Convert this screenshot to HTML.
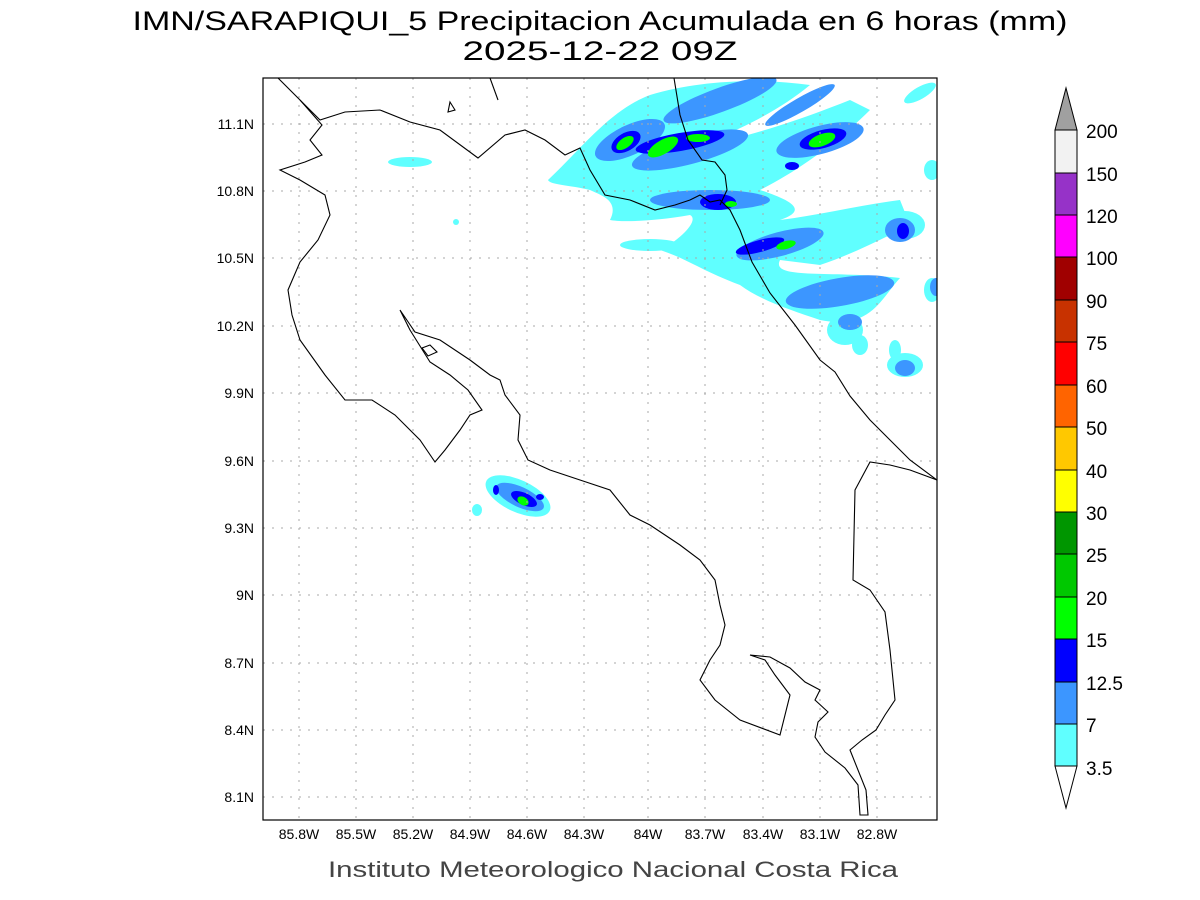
<!DOCTYPE html>
<html><head><meta charset="utf-8"><style>
body{margin:0;background:#fff;}
svg{display:block;font-family:"Liberation Sans",sans-serif;}
</style></head><body>
<svg width="1200" height="900" viewBox="0 0 1200 900">
<text x="600" y="30" text-anchor="middle" font-size="27" fill="#000" textLength="935" lengthAdjust="spacingAndGlyphs">IMN/SARAPIQUI_5 Precipitacion Acumulada en 6 horas (mm)</text>
<text x="600" y="60" text-anchor="middle" font-size="27" fill="#000" textLength="275" lengthAdjust="spacingAndGlyphs">2025-12-22 09Z</text>
<defs><clipPath id="c"><rect x="263" y="78" width="674" height="742"/></clipPath></defs>
<g clip-path="url(#c)">
<!-- precip cyan -->
<g fill="#60ffff">
<path d="M548,180 C580,150 610,110 650,95 C700,80 760,78 810,85 C780,110 740,130 700,145 C740,140 800,120 850,100 L870,110 C840,140 800,170 760,190 C790,200 810,210 780,220 C820,215 860,205 900,200 L910,225 C880,240 850,255 820,265 L780,260 C770,280 830,270 900,278 C880,300 870,330 820,320 C790,310 760,300 740,285 C700,270 690,260 660,250 C680,240 700,220 690,215 C650,222 620,222 610,220 C620,200 600,195 590,190 C570,185 550,185 548,180Z"/>
<ellipse cx="650" cy="245" rx="30" ry="6"/>
<ellipse cx="410" cy="162" rx="22" ry="5"/>
<ellipse cx="845" cy="330" rx="18" ry="15"/>
<ellipse cx="860" cy="345" rx="8" ry="10"/>
<ellipse cx="905" cy="365" rx="18" ry="12"/>
<ellipse cx="895" cy="350" rx="6" ry="10"/>
<ellipse cx="920" cy="93" rx="18" ry="6" transform="rotate(-30 920 93)"/>
<ellipse cx="932" cy="170" rx="8" ry="10"/>
<ellipse cx="905" cy="225" rx="20" ry="14"/>
<ellipse cx="932" cy="290" rx="8" ry="12"/>
<ellipse cx="518" cy="496" rx="35" ry="16" transform="rotate(25 518 496)"/>
<ellipse cx="477" cy="510" rx="5" ry="6"/>
<ellipse cx="456" cy="222" rx="3" ry="3"/>
</g>
<!-- blue 7 -->
<g fill="#3c96ff">
<ellipse cx="630" cy="140" rx="38" ry="15" transform="rotate(-25 630 140)"/>
<ellipse cx="690" cy="150" rx="60" ry="14" transform="rotate(-15 690 150)"/>
<ellipse cx="720" cy="100" rx="60" ry="12" transform="rotate(-20 720 100)"/>
<ellipse cx="820" cy="140" rx="45" ry="14" transform="rotate(-15 820 140)"/>
<ellipse cx="800" cy="105" rx="40" ry="7" transform="rotate(-30 800 105)"/>
<ellipse cx="710" cy="200" rx="60" ry="10"/>
<ellipse cx="780" cy="244" rx="45" ry="12" transform="rotate(-15 780 244)"/>
<ellipse cx="840" cy="292" rx="55" ry="14" transform="rotate(-10 840 292)"/>
<ellipse cx="900" cy="230" rx="15" ry="12"/>
<ellipse cx="850" cy="322" rx="12" ry="8"/>
<ellipse cx="905" cy="368" rx="10" ry="8"/>
<ellipse cx="936" cy="287" rx="6" ry="9"/>
<ellipse cx="520" cy="497" rx="26" ry="10" transform="rotate(25 520 497)"/>
</g>
<!-- blue 12.5 -->
<g fill="#0000ff">
<ellipse cx="626" cy="142" rx="16" ry="9" transform="rotate(-30 626 142)"/>
<ellipse cx="680" cy="142" rx="45" ry="9" transform="rotate(-10 680 142)"/>
<ellipse cx="823" cy="139" rx="24" ry="9" transform="rotate(-15 823 139)"/>
<ellipse cx="718" cy="202" rx="18" ry="8"/>
<ellipse cx="760" cy="246" rx="25" ry="6" transform="rotate(-15 760 246)"/>
<ellipse cx="903" cy="231" rx="6" ry="8"/>
<ellipse cx="792" cy="166" rx="7" ry="4"/>
<ellipse cx="524" cy="499" rx="14" ry="6" transform="rotate(25 524 499)"/>
<ellipse cx="496" cy="490" rx="3" ry="5"/>
<ellipse cx="540" cy="497" rx="4" ry="3"/>
</g>
<g fill="#00ff00">
<ellipse cx="625" cy="143" rx="10" ry="5" transform="rotate(-35 625 143)"/>
<ellipse cx="663" cy="147" rx="17" ry="7" transform="rotate(-30 663 147)"/>
<ellipse cx="698" cy="138" rx="12" ry="4"/>
<ellipse cx="822" cy="140" rx="14" ry="6" transform="rotate(-20 822 140)"/>
<ellipse cx="786" cy="245" rx="10" ry="4" transform="rotate(-15 786 245)"/>
<ellipse cx="731" cy="204" rx="6" ry="3"/>
<ellipse cx="523" cy="501" rx="6" ry="4" transform="rotate(30 523 501)"/>
</g>
<!-- grid -->
<g stroke="#aaa" stroke-width="1" stroke-dasharray="2,7">
<path d="M299,78V820M356,78V820M413,78V820M470,78V820M527,78V820M584,78V820M648,78V820M705,78V820M763,78V820M820,78V820M877,78V820"/>
<path d="M263,124H937M263,191H937M263,258H937M263,326H937M263,393H937M263,461H937M263,528H937M263,595H937M263,663H937M263,730H937M263,797H937"/>
</g>
<!-- coasts -->
<g fill="none" stroke="#000" stroke-width="1.1">
<path d="M278,78 L300,100 L322,125 L310,140 L322,155 L305,162 L280,170 L300,180 L325,195 L330,215 L318,240 L300,262 L288,290 L292,315 L300,340 L325,375 L345,400 L372,400 L395,415 L420,440 L435,462 L445,450 L460,430 L470,415 L482,410 L468,390 L450,375 L430,362 L410,330 L400,310 L415,332 L440,340 L470,360 L490,375 L500,380 L505,395 L520,415 L518,440 L528,460 L550,470 L580,480 L610,490 L630,515 L650,525 L680,545 L700,560 L715,580 L720,605 L725,625 L720,645 L710,660 L700,680 L715,700 L740,720 L780,735 L785,715 L790,695 L775,675 L765,660 L750,655 L770,657 L790,668 L805,682 L820,690 L815,700 L828,712 L818,722 L815,737 L825,752 L845,768 L858,785 L860,815 L868,815 L866,790 L850,750 L862,740 L876,730 L885,715 L895,700 L890,650 L885,612 L870,590 L853,580 L855,490 L870,462 L890,465 L910,470 L937,480"/>
<path d="M300,100 L320,120 L345,112 L380,110 L410,122 L440,130 L478,158 L505,135 L525,130 L545,140 L565,155 L580,148 L590,170 L605,195 L630,200 L655,210 L675,205 L690,200 L700,195 L710,202 L720,200 L730,210 L740,230 L752,262 L770,293 L795,325 L820,360 L835,372 L850,396 L870,420 L890,440 L910,460 L937,480"/>
<path d="M674,78 L680,115 L688,140 L702,160 L715,162 L725,175 L727,190 L720,205"/>
<path d="M490,78 L498,100"/>
<path d="M450,102 L455,110 L448,112 Z"/>
<path d="M422,348 L430,345 L437,352 L428,356 Z"/>
</g>
</g>
<rect x="263" y="78" width="674" height="742" fill="none" stroke="#000" stroke-width="1.2"/>
<!-- tick labels -->
<g font-size="14" fill="#000" text-anchor="end">
<text x="254" y="129">11.1N</text><text x="254" y="196">10.8N</text><text x="254" y="263">10.5N</text><text x="254" y="331">10.2N</text><text x="254" y="398">9.9N</text><text x="254" y="466">9.6N</text><text x="254" y="533">9.3N</text><text x="254" y="600">9N</text><text x="254" y="668">8.7N</text><text x="254" y="735">8.4N</text><text x="254" y="802">8.1N</text>
</g>
<g font-size="14" fill="#000" text-anchor="middle">
<text x="299" y="839">85.8W</text><text x="356" y="839">85.5W</text><text x="413" y="839">85.2W</text><text x="470" y="839">84.9W</text><text x="527" y="839">84.6W</text><text x="584" y="839">84.3W</text><text x="648" y="839">84W</text><text x="705" y="839">83.7W</text><text x="763" y="839">83.4W</text><text x="820" y="839">83.1W</text><text x="877" y="839">82.8W</text>
</g>
<text x="613" y="877" text-anchor="middle" font-size="22" fill="#444" textLength="570" lengthAdjust="spacingAndGlyphs">Instituto Meteorologico Nacional Costa Rica</text>
<!-- colorbar -->
<g stroke="#000" stroke-width="1">
<polygon points="1055,766 1077,766 1066,808" fill="#fff"/>
<rect x="1055" y="724" width="22" height="42" fill="#60ffff"/>
<rect x="1055" y="682" width="22" height="42" fill="#3c96ff"/>
<rect x="1055" y="639" width="22" height="43" fill="#0000ff"/>
<rect x="1055" y="597" width="22" height="42" fill="#00ff00"/>
<rect x="1055" y="554" width="22" height="43" fill="#00c800"/>
<rect x="1055" y="512" width="22" height="42" fill="#009600"/>
<rect x="1055" y="470" width="22" height="42" fill="#ffff00"/>
<rect x="1055" y="427" width="22" height="43" fill="#ffc800"/>
<rect x="1055" y="385" width="22" height="42" fill="#ff6400"/>
<rect x="1055" y="342" width="22" height="43" fill="#ff0000"/>
<rect x="1055" y="300" width="22" height="42" fill="#c83200"/>
<rect x="1055" y="257" width="22" height="43" fill="#a00000"/>
<rect x="1055" y="215" width="22" height="42" fill="#ff00ff"/>
<rect x="1055" y="173" width="22" height="42" fill="#9632c8"/>
<rect x="1055" y="130" width="22" height="43" fill="#f2f2f2"/>
<polygon points="1055,130 1077,130 1066,88" fill="#a0a0a0"/>
</g>
<g font-size="19" fill="#000">
<text x="1086" y="775">3.5</text><text x="1086" y="732">7</text><text x="1086" y="690">12.5</text><text x="1086" y="647">15</text><text x="1086" y="605">20</text><text x="1086" y="562">25</text><text x="1086" y="520">30</text><text x="1086" y="478">40</text><text x="1086" y="435">50</text><text x="1086" y="393">60</text><text x="1086" y="350">75</text><text x="1086" y="308">90</text><text x="1086" y="265">100</text><text x="1086" y="223">120</text><text x="1086" y="181">150</text><text x="1086" y="138">200</text>
</g>
</svg>
</body></html>
